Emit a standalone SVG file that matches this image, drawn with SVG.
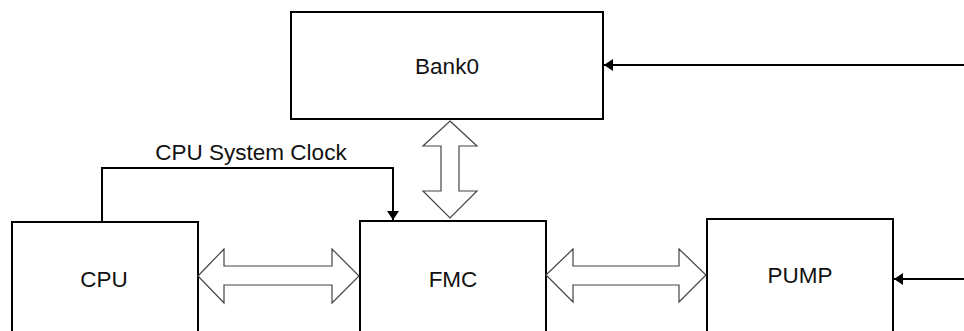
<svg xmlns="http://www.w3.org/2000/svg" width="964" height="331" viewBox="0 0 964 331">
  <style>
    .box { fill: #ffffff; stroke: #000000; stroke-width: 2; }
    .lbl { font-family: "Liberation Sans", Arial, sans-serif; font-size: 22.5px; fill: #111111; text-anchor: middle; }
    .wire { fill: none; stroke: #000000; stroke-width: 2; }
    .block { fill: #ffffff; stroke: #444444; stroke-width: 1.2; stroke-linejoin: miter; }
  </style>
  <defs>
    <marker id="ah" markerUnits="userSpaceOnUse" markerWidth="10" markerHeight="12" refX="9" refY="6" orient="auto">
      <path d="M0,0 L9,6 L0,12 Z" fill="#000000"/>
    </marker>
  </defs>
  <rect width="964" height="331" fill="#ffffff"/>

  <g id="bank0">
    <rect class="box" x="291" y="12" width="312" height="107"/>
    <text class="lbl" x="447" y="74">Bank0</text>
  </g>
  <g id="cpu">
    <rect class="box" x="12" y="222" width="186" height="140"/>
    <text class="lbl" x="104" y="287">CPU</text>
  </g>
  <g id="fmc">
    <rect class="box" x="360" y="221" width="186" height="140"/>
    <text class="lbl" x="453" y="287">FMC</text>
  </g>
  <g id="pump">
    <rect class="box" x="707" y="219" width="186" height="140"/>
    <text class="lbl" x="800" y="283">PUMP</text>
  </g>

  <g id="connectors">
    <path class="wire" d="M964,65 L604,65" marker-end="url(#ah)"/>
    <path class="wire" d="M964,279 L894,279" marker-end="url(#ah)"/>
    <path class="wire" d="M102,221 L102,168 L393,168 L393,220" marker-end="url(#ah)"/>
    <text class="lbl" x="251" y="160">CPU System Clock</text>
    <polygon class="block" points="198,276 224,249 224,266 332,266 332,249 359,276 332,303 332,285 224,285 224,303"/>
    <polygon class="block" points="546,275 573,249 573,266 679,266 679,249 706,275 679,302 679,285 573,285 573,302"/>
    <polygon class="block" points="450,121 477,146 459,146 459,191 477,191 450,218 423,191 441,191 441,146 423,146"/>
  </g>
</svg>
